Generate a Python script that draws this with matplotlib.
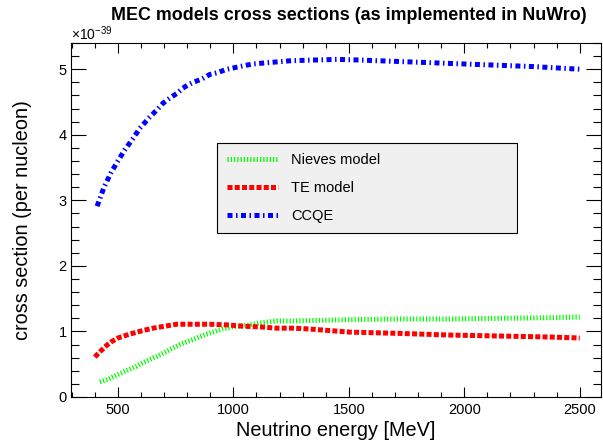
import matplotlib
matplotlib.use("Agg")
import matplotlib.pyplot as plt

# values, cross section in units of 1e-39 cm^2
energy_nieves = [422, 457, 522, 582, 595, 660, 669, 768, 820, 855, 885, 920, 955, 998,
                 1071, 1115, 1188, 1257, 1504, 1721, 1937, 2154, 2370, 2500]
xsec_nieves = [0.23, 0.27, 0.38, 0.47, 0.50, 0.61, 0.62, 0.80, 0.87, 0.92, 0.96, 1.00, 1.04, 1.07,
               1.10, 1.13, 1.16, 1.16, 1.18, 1.19, 1.19, 1.20, 1.21, 1.22]

energy_te = [400, 425, 452, 475, 500, 552, 604, 652, 703, 755, 825, 898, 972, 1041,
             1115, 1188, 1257, 1318, 1504, 1721, 1937, 2154, 2370, 2500]
xsec_te = [0.61, 0.70, 0.79, 0.85, 0.90, 0.96, 1.01, 1.05, 1.08, 1.11, 1.11, 1.11, 1.10, 1.08,
           1.07, 1.05, 1.05, 1.04, 0.99, 0.97, 0.945, 0.93, 0.915, 0.90]

energy_ccqe = [410, 440, 470, 500, 530, 569, 595, 638, 669, 695, 725, 755, 781, 803, 825, 864,
               898, 933, 972, 1000, 1041, 1084, 1150, 1250, 1350, 1450, 1550, 1700, 1850, 2000,
               2150, 2300, 2400, 2500]
xsec_ccqe = [2.91, 3.20, 3.42, 3.60, 3.77, 3.96, 4.10, 4.27, 4.38, 4.48, 4.56, 4.63, 4.71, 4.76,
             4.80, 4.85, 4.92, 4.95, 5.00, 5.02, 5.05, 5.08, 5.10, 5.13, 5.14, 5.15, 5.14, 5.12,
             5.10, 5.08, 5.06, 5.04, 5.02, 5.00]

labels = ["Nieves model", "TE model", "CCQE"]
x_ticks = [500, 1000, 1500, 2000, 2500]
y_ticks = [0, 1, 2, 3, 4, 5]

plt.rcParams['font.family'] = ['Liberation Sans', 'DejaVu Sans']
plt.rcParams['mathtext.fontset'] = 'custom'
plt.rcParams['mathtext.rm'] = 'Liberation Sans'


def main():
    fig = plt.figure(figsize=(6.03, 4.43), dpi=100)
    ax = fig.add_axes([71 / 603, 1 - 397 / 443, 530 / 603, 354 / 443])

    lw = 3.6
    ax.plot(energy_nieves, xsec_nieves, color='#00ff00', lw=lw, dashes=(0.25, 0.4),
            solid_capstyle='butt', dash_capstyle='butt', label=labels[0])
    ax.plot(energy_te, xsec_te, color='#ff0000', lw=lw, dashes=(1.0, 0.45),
            dash_capstyle='butt', label=labels[1])
    ax.plot(energy_ccqe, xsec_ccqe, color='#0000ff', lw=lw, dashes=(1.0, 0.7, 0.3, 0.7),
            dash_capstyle='butt', label=labels[2])

    ax.set_xlim(297, 2592)
    ax.set_ylim(0, 5.4)
    ax.set_xticks(x_ticks)
    ax.set_yticks(y_ticks)
    ax.set_xticks(range(300, 2600, 100), minor=True)
    ax.set_yticks([i * 0.2 for i in range(28)], minor=True)

    ax.tick_params(axis='x', which='major', direction='in', length=7.5, width=0.8,
                   labelsize=10.5, pad=4, top=True)
    ax.tick_params(axis='x', which='minor', direction='in', length=3.8, width=0.8, top=True)
    ax.tick_params(axis='y', which='major', direction='in', length=11, width=0.8,
                   labelsize=10.5, pad=3, right=True)
    ax.tick_params(axis='y', which='minor', direction='in', length=5.5, width=0.8, right=True)
    for s in ax.spines.values():
        s.set_linewidth(0.8)

    ax.set_xlabel("Neutrino energy [MeV]", fontsize=14.3, labelpad=3)
    ax.set_ylabel("cross section (per nucleon)", fontsize=14.3, labelpad=19)
    ax.text(0.0, 1.0, r"$\times10^{-39}$", transform=ax.transAxes, fontsize=10,
            ha='left', va='bottom')
    fig.text(349 / 603, 1 - 16 / 443, "MEC models cross sections (as implemented in NuWro)",
             fontsize=12.9, fontweight='bold', ha='center', va='center')

    leg = ax.legend(loc='center', bbox_to_anchor=((217 - 71) / 530, (397 - 233) / 354,
                                                  300 / 530, 90 / 354),
                    mode='expand', fancybox=False, framealpha=1, fontsize=10.5,
                    handlelength=3.5, handletextpad=0.9, labelspacing=0.95, borderpad=0.7,
                    borderaxespad=0)
    leg.get_frame().set_facecolor('#f0f0f0')
    leg.get_frame().set_edgecolor('black')
    leg.get_frame().set_linewidth(0.8)

    fig.savefig("out.png", dpi=100)


if __name__ == '__main__':
    main()
